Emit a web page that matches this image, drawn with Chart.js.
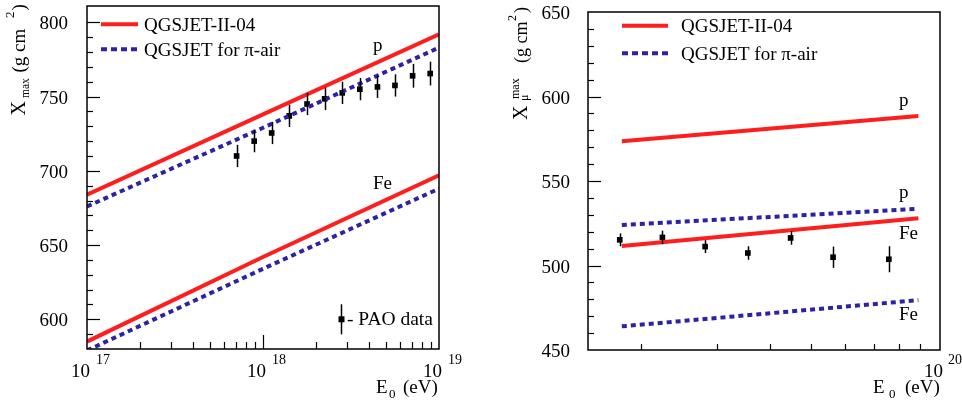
<!DOCTYPE html>
<html><head><meta charset="utf-8">
<script src="https://cdn.jsdelivr.net/npm/chart.js@4/dist/chart.umd.min.js"></script>
<style>
html,body{margin:0;padding:0;background:#fff;}
#wrap{position:relative;width:962px;height:406px;overflow:hidden;}
canvas{position:absolute;top:0;}
#c1{left:0;} #c2{left:480px;}
#fl{position:absolute;left:-2000px;top:0;font-family:"Liberation Serif";font-size:19px;color:#fff;}
</style></head><body>
<div id="fl">QGSJET p Fe 0123456789</div>
<div id="wrap"><canvas id="c1" width="480" height="406"></canvas><canvas id="c2" width="482" height="406"></canvas></div>
<script>
// ---------- Left panel data (Xmax vs E0) ----------
const leftLineE     = [1e17, 1e18, 1e19];
const leftQII_p     = [684, 738, 792];
const leftPiAir_p   = [676, 729, 783];
const leftQII_Fe    = [585, 642, 697];
const leftPiAir_Fe  = [579, 634, 688];
const paoE    = [7.08e17, 8.91e17, 1.12e18, 1.41e18, 1.78e18, 2.24e18, 2.82e18, 3.55e18, 4.47e18, 5.62e18, 7.08e18, 8.91e18];
const paoXmax = [710, 720, 725.5, 737, 745, 748.5, 752.5, 755, 756.5, 757.5, 764, 765.5];
const paoErr  = [7.5, 7.5, 7.5, 7.5, 7.5, 7.5, 7.5, 7.5, 7.5, 7.5, 8, 8];
const leftYTicks = [600, 650, 700, 750, 800];
const leftXDecades = [17, 18, 19];

// ---------- Right panel data (Xmu_max vs E0) ----------
const rightLineE    = [1.8e19, 8.9e19];
const rightQII_p    = [573.5, 588.5];
const rightPiAir_p  = [524, 533.5];
const rightQII_Fe   = [511.5, 528];
const rightPiAir_Fe = [464, 479.5];
const muE    = [1.78e19, 2.24e19, 2.82e19, 3.55e19, 4.47e19, 5.62e19, 7.59e19];
const muXmax = [515.2, 516.6, 511.2, 507.4, 516.3, 504.9, 503.7];
const muErr  = [3.8, 4, 3.8, 4, 4, 6.3, 7.7];
const rightYTicks = [450, 500, 550, 600, 650];
const rightXDecades = [20];

const legendLabels = ['QGSJET-II-04', 'QGSJET for \u03C0-air'];

const RED = '#ff1e1e', BLUE = '#2e22a4';
const FONT = '"Liberation Serif"';

function pts(xs, ys){ return xs.map((x,i)=>({x:x, y:ys[i]})); }
function lineDS(xs, ys, color, dashed){
  return {data: pts(xs,ys), showLine:true, borderColor:color, backgroundColor:color, borderWidth:4,
    borderDash: dashed?[5,4]:[], pointRadius:0, tension:0, fill:false, clip:0, borderCapStyle:'butt'};
}
function txt(ctx, s, x, y, size, align){
  ctx.font = size+'px '+FONT; ctx.textAlign = align||'left'; ctx.textBaseline='alphabetic'; ctx.fillText(s,x,y);
}
function rtxt(ctx, s, x, y, size){
  ctx.save(); ctx.translate(x,y); ctx.rotate(-Math.PI/2);
  ctx.font = size+'px '+FONT; ctx.textAlign='left'; ctx.textBaseline='alphabetic'; ctx.fillText(s,0,0);
  ctx.restore();
}

function decor(cfg){
  return {
    id: 'decor',
    afterDatasetsDraw(chart){
      const ctx = chart.ctx, xs = chart.scales.x, ys = chart.scales.y;
      ctx.save(); ctx.strokeStyle='#000'; ctx.lineWidth=1.5;
      cfg.errE.forEach((e,i)=>{
        const px = Math.round(xs.getPixelForValue(e))+0.5;
        ctx.beginPath();
        ctx.moveTo(px, ys.getPixelForValue(cfg.errY[i]-cfg.errV[i]));
        ctx.lineTo(px, ys.getPixelForValue(cfg.errY[i]+cfg.errV[i]));
        ctx.stroke();
      });
      ctx.restore();
    },
    afterDraw(chart){
      const ctx = chart.ctx, xs = chart.scales.x, ys = chart.scales.y, a = chart.chartArea;
      ctx.save();
      ctx.strokeStyle = '#000'; ctx.fillStyle = '#000'; ctx.lineWidth = 1.5;
      ctx.strokeRect(a.left, a.top, a.right-a.left, a.bottom-a.top);
      ctx.lineWidth = 1.2;
      for (let v = ys.min+10; v < ys.max-2; v += 10){
        const py = Math.round(ys.getPixelForValue(v))+0.5;
        const major = (v % 50 === 0);
        ctx.beginPath(); ctx.moveTo(a.left, py); ctx.lineTo(a.left + (major?13:6), py); ctx.stroke();
      }
      for (let e = 16; e <= 20; e++){
        for (let m = 1; m <= 9; m++){
          const v = m*Math.pow(10,e);
          if (v <= xs.min*1.001 || v >= xs.max*0.999) continue;
          const px = Math.round(xs.getPixelForValue(v))+0.5;
          ctx.beginPath(); ctx.moveTo(px, a.bottom); ctx.lineTo(px, a.bottom - (m===1?14:cfg.minorX)); ctx.stroke();
        }
      }
      cfg.yTicks.forEach(v=>{ txt(ctx, String(v), cfg.yLabelRight, ys.getPixelForValue(v)+7, 19, 'right'); });
      cfg.xDecades.forEach(n=>{
        const px = xs.getPixelForValue(Math.pow(10,n));
        txt(ctx, '10', px+3, 377, 19, 'right');
        txt(ctx, String(n), px+cfg.supOff, 364, 14, 'left');
      });
      const xt = cfg.xTitle;
      txt(ctx, 'E', xt.e, 393, 19); txt(ctx, '0', xt.sub, 398, 13); txt(ctx, '(eV)', xt.ev, 393, 19);
      cfg.yTitle.forEach(p=> rtxt(ctx, p[0], p[1], p[2], p[3]));
      const L = cfg.legend;
      ctx.lineWidth = 4; ctx.strokeStyle = RED; ctx.setLineDash([]);
      ctx.beginPath(); ctx.moveTo(L.x0, L.y1); ctx.lineTo(L.x1, L.y1); ctx.stroke();
      ctx.strokeStyle = BLUE; ctx.setLineDash([6,4]);
      ctx.beginPath(); ctx.moveTo(L.x0, L.y2); ctx.lineTo(L.x1, L.y2); ctx.stroke();
      ctx.setLineDash([]);
      ctx.fillStyle='#000';
      txt(ctx, legendLabels[0], L.tx, L.b1, 19); txt(ctx, legendLabels[1], L.tx, L.b2, 19);
      cfg.labels.forEach(l=> txt(ctx, l[0], l[1], l[2], 19));
      if (cfg.pao){
        const P = cfg.pao;
        ctx.lineWidth = 1.5; ctx.strokeStyle='#000';
        ctx.beginPath(); ctx.moveTo(P.x+0.5, P.y-15); ctx.lineTo(P.x+0.5, P.y+15); ctx.stroke();
        ctx.fillRect(P.x-2.5, P.y-3, 6, 6);
        txt(ctx, '- PAO data', P.x+6, P.y+6, 19.5);
      }
      ctx.restore();
    }
  };
}

function pointsDS(xs, ys){
  return {data: pts(xs,ys), showLine:false, pointStyle:'rect', pointRadius:4, pointBackgroundColor:'#000', pointBorderWidth:0, borderColor:'#000', backgroundColor:'#000'};
}

function mkChart(id, cfg){
  return new Chart(document.getElementById(id), {
    type: 'scatter',
    data: { datasets: cfg.datasets },
    options: {
      responsive:false, animation:false, devicePixelRatio:1,
      layout:{ padding: cfg.padding },
      plugins:{ legend:{display:false}, tooltip:{enabled:false} },
      scales:{
        x:{ type:'logarithmic', min:cfg.xmin, max:cfg.xmax, display:false },
        y:{ type:'linear', min:cfg.ymin, max:cfg.ymax, display:false }
      }
    },
    plugins:[decor(cfg)]
  });
}

const ch1 = mkChart('c1', {
  datasets:[
    lineDS(leftLineE, leftQII_p, RED, false),
    lineDS(leftLineE, leftPiAir_p, BLUE, true),
    lineDS(leftLineE, leftQII_Fe, RED, false),
    lineDS(leftLineE, leftPiAir_Fe, BLUE, true),
    pointsDS(paoE, paoXmax)
  ],
  padding:{left:87, right:41, top:6, bottom:57},
  xmin:1e17, xmax:1e19, ymin:580, ymax:811,
  errE:paoE, errY:paoXmax, errV:paoErr,
  yTicks:leftYTicks, xDecades:leftXDecades, yLabelRight:68, supOff:9, minorX:7,
  xTitle:{e:376, sub:389, ev:403},
  yTitle:[['X',25,115.5,20],['max',29,98,11.5],['(g cm',24.5,72.5,19],['2',14,18,13],[')',24.5,10.5,19]],
  legend:{x0:101, x1:138, y1:24.3, y2:49.3, tx:144, b1:31, b2:56},
  labels:[['p',373,50.5],['Fe',373,189]],
  pao:{x:341, y:319.3}
});
const ch2 = mkChart('c2', {
  datasets:[
    lineDS(rightLineE, rightQII_p, RED, false),
    lineDS(rightLineE, rightPiAir_p, BLUE, true),
    lineDS(rightLineE, rightQII_Fe, RED, false),
    lineDS(rightLineE, rightPiAir_Fe, BLUE, true),
    pointsDS(muE, muXmax)
  ],
  padding:{left:108, right:22, top:12, bottom:56},
  xmin:1.5e19, xmax:1e20, ymin:450, ymax:650,
  errE:muE, errY:muXmax, errV:muErr,
  yTicks:rightYTicks, xDecades:rightXDecades, yLabelRight:90, supOff:8, minorX:6,
  xTitle:{e:393, sub:409, ev:425},
  yTitle:[['X',47,120,20],['\u03BC',48,101,12],['max',39,99,12],['(g cm',47,63,18],['2',36,21,12],[')',47,13,18]],
  legend:{x0:142, x1:188, y1:25.7, y2:53.3, tx:201, b1:32.3, b2:60},
  labels:[['p',419,106],['p',419,197.5],['Fe',419,239],['Fe',419,320]],
  pao:null
});
function redraw(){ ch1.draw(); ch2.draw(); }
if (document.fonts){ document.fonts.ready.then(redraw); }
window.addEventListener('load', redraw);
</script>
</body></html>
